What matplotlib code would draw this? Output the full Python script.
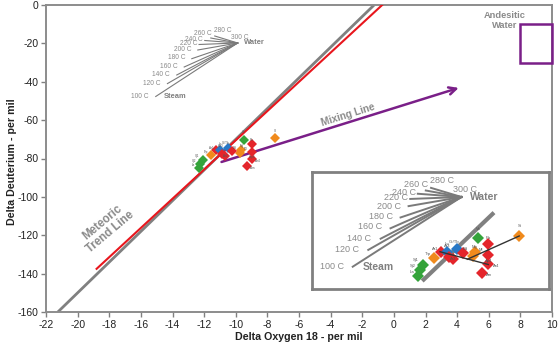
import numpy as np
import matplotlib
matplotlib.use('Agg')
import matplotlib.pyplot as plt
from matplotlib.patches import Rectangle

plt.rcParams['font.family'] = ['Liberation Sans', 'DejaVu Sans']
plt.rcParams['axes.unicode_minus'] = False

# ---------------- data ----------------
xticks = list(range(-22, 11, 2))
yticks = list(range(-160, 1, 20))

gmwl_x = [-21.25, -1.25]          # meteoric trend line (grey)
gmwl_y = [-160, 0]
local_x = [-18.8, -0.74]          # local line (red)
local_y = [-137.5, 0]

mix_start = (-10.9, -81.8)        # mixing line arrow
mix_end = (4.1, -43.2)

andesitic_x = [8, 10]
andesitic_y = [-30, -10]

water_pt = (-9.88, -19.8)
temps = [100, 120, 140, 160, 180, 200, 220, 240, 260, 280, 300]
steam_x = [-15.06, -14.32, -13.73, -13.26, -12.78, -12.40, -12.32, -11.96, -11.58, -11.33, -9.88]
steam_y = [-47.68, -40.96, -36.48, -32.31, -27.98, -23.45, -20.58, -18.50, -17.20, -16.15, -19.8]

sample_names = ['Vs', 'Pa', 'Si', 'Mg', 'Ml', 'Ap4', 'Ar4', 'Am', 'Ar1', 'Lo', 'Gr/Tb',
                'Bd', 'Ar2', 'Ar3', 'Trp', 'Sj1', 'Sj2', 'La']
sample_x = [-9.48, -9.0, -7.53, -9.64, -9.75, -9.0, -9.0, -9.29, -11.26, -10.99, -10.51,
            -10.22, -10.67, -10.86, -11.58, -12.1, -12.26, -12.34]
sample_y = [-70.1, -72.4, -69.2, -75.5, -77.2, -76.8, -80.4, -83.9, -75.5, -75.5, -74.5,
            -76.1, -78.5, -77.7, -78.1, -80.8, -82.8, -85.2]
sample_group = ['g', 'r', 'o', 'o', 'o', 'r', 'r', 'r', 'r', 'b', 'b',
                'r', 'r', 'r', 'o', 'g', 'g', 'g']

inset_gmwl_x = [-12.15, -8.73]
mixA_x = [-11.3, -9.0]
mixA_y = [-75.5, -80.6]
mixB_x = [-10.0, -7.53]
mixB_y = [-78.5, -69.2]

# ---------------- styles ----------------
colors = {'g': '#34a33a', 'o': '#f08a1c', 'r': '#e4252b', 'b': '#2878c6'}
grey = '#808080'
purple = '#7a1f88'
txtgrey = '#8a8a8a'

# label offsets in inset pixels (dx right, dy down)
temp_off = [(-21, 0), (-21, 0), (-22, 0), (-20, -1.3), (-20, -1.3), (-20, 0),
            (-14, -1.3), (-14, -1.3), (-10, -5.7), (11, -7.6), (3.3, -7.3)]
samp_off = [(0, -4.3), (0, -2.5), (0, -4.3), (0, -2.2), (3.5, -2.5), (0, 2.5), (3.5, 0.8),
            (3, 1.2), (-2.5, -1.2), (0, -3.4), (-1, -3.1), (1.2, -1.8), (0, 0), (-1, -5),
            (-2.8, -2), (-3.4, -2.4), (-3.4, -2), (-3, -2)]

W, H = 560, 348
fig = plt.figure(figsize=(5.6, 3.48), dpi=100)
ax = fig.add_axes([46 / W, 1 - 312 / H, (552 - 46) / W, (312 - 5) / H])
ax.set_xlim(-22, 10)
ax.set_ylim(-160, 0)
ax.set_xticks(xticks)
ax.set_yticks(yticks)
ax.tick_params(direction='out', length=3.5, width=1, color=grey, labelsize=7.5,
               labelcolor='#222222', pad=2)
for s in ax.spines.values():
    s.set_color('#8c8c8c')
    s.set_linewidth(1.4)

ax.text(0.5, -0.083, 'Delta Oxygen 18 - per mil', transform=ax.transAxes, ha='center',
        va='center', fontsize=7.7, fontweight='bold', color='#222222')
ax.text(-0.068, 0.49, 'Delta Deuterium - per mil', transform=ax.transAxes, ha='center',
        va='center', rotation=90, fontsize=7.7, fontweight='bold', color='#222222')

ax.plot(gmwl_x, gmwl_y, color=grey, lw=2, zorder=2, solid_capstyle='butt')
ax.plot(local_x, local_y, color='#e8161d', lw=1.5, zorder=3)

ax.annotate('', xy=mix_end, xytext=mix_start,
            arrowprops=dict(arrowstyle='->', color=purple, lw=1.8, mutation_scale=13,
                            shrinkA=0, shrinkB=0), zorder=3)
ax.add_patch(Rectangle((andesitic_x[0], andesitic_y[0]), andesitic_x[1] - andesitic_x[0],
                       andesitic_y[1] - andesitic_y[0], fill=False, ec=purple, lw=1.8,
                       zorder=4, clip_on=False))

ax.text(-18.2, -116, 'Meteoric\nTrend Line', rotation=40, ha='center', va='center',
        fontsize=8.3, fontweight='bold', color=txtgrey, linespacing=1.05)
ax.text(-2.92, -57.3, 'Mixing Line', rotation=17.4, ha='center', va='center',
        fontsize=7.3, fontweight='bold', color=txtgrey)
ax.text(7.0, -8.1, 'Andesitic\nWater', ha='center', va='center', fontsize=6.7,
        fontweight='bold', color=txtgrey, linespacing=1.1)


def draw_fan(a, dx, dy, scale, tfs, bfs, lw):
    wx, wy = water_pt[0] + dx, water_pt[1] + dy
    for t, sx, sy, off in zip(temps, steam_x, steam_y, temp_off):
        ex, ey = sx + dx, sy + dy
        if t != 300:
            a.plot([ex, wx], [ey, wy], color='#7a7a7a', lw=lw, zorder=2)
        a.annotate(f'{t} C', xy=(ex, ey), xytext=(off[0] * 0.72 / scale, -off[1] * 0.72 / scale),
                   textcoords='offset points', ha='center', va='center', fontsize=tfs,
                   color=txtgrey)
    a.annotate('Water', xy=(wx, wy), xytext=(23 * 0.72 / scale, 0), textcoords='offset points',
               ha='center', va='center', fontsize=bfs, fontweight='bold', color=grey)
    a.annotate('Steam', xy=(steam_x[0] + dx, steam_y[0] + dy), xytext=(26 * 0.72 / scale, 0),
               textcoords='offset points', ha='center', va='center', fontsize=bfs,
               fontweight='bold', color=grey)


def draw_samples(a, ms, fs, scale):
    for n, x, y, g, off in zip(sample_names, sample_x, sample_y, sample_group, samp_off):
        a.plot(x, y, marker='D', ms=ms, color=colors[g], mew=0, zorder=5, ls='none')
        a.annotate(n, xy=(x, y), xytext=(off[0] * 3 * 0.72 / scale, -off[1] * 3 * 0.72 / scale),
                   textcoords='offset points', ha='center', va='center', fontsize=fs,
                   color='#555555', zorder=6)


draw_fan(ax, 0, 0, 1.34, 4.8, 5.4, 0.8)
draw_samples(ax, 4.8, 2.2, 1.34 * 1.34)

# ---------------- inset ----------------
ins = fig.add_axes([312 / W, 1 - 289 / H, 237 / W, 117 / H])
ins.set_xlim(-17.4, -6.11)
ins.set_ylim(-90.4, -43.6)
ins.set_xticks([])
ins.set_yticks([])
ins.set_facecolor('white')
for s in ins.spines.values():
    s.set_color('#808080')
    s.set_linewidth(2)

ins.plot(inset_gmwl_x, np.interp(inset_gmwl_x, gmwl_x, gmwl_y), color=grey, lw=3,
         zorder=2, solid_capstyle='butt')
ins.plot(mixA_x, mixA_y, color='#333333', lw=1, zorder=6)
ins.plot(mixB_x, mixB_y, color='#333333', lw=1, zorder=6)
draw_fan(ins, -0.4, -33.8, 1.0, 6.5, 7.5, 1.4)
draw_samples(ins, 6.5, 3.0, 1.34)

fig.savefig('out.png', dpi=100)
